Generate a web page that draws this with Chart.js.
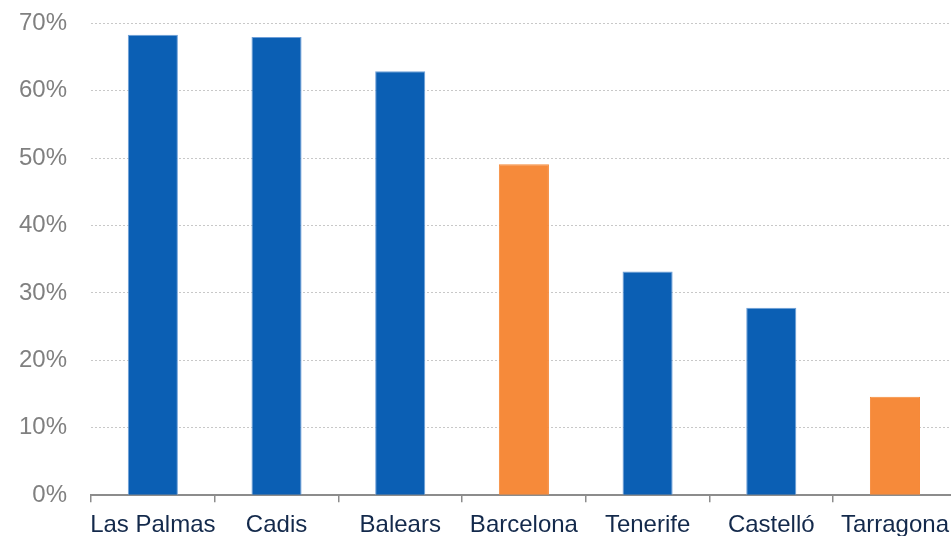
<!DOCTYPE html>
<html>
<head>
<meta charset="utf-8">
<script src="https://cdn.jsdelivr.net/npm/chart.js@4"></script>
<style>
  html, body { margin: 0; padding: 0; background: #fff; overflow: hidden; }
  #wrap { width: 958px; height: 564px; margin-top: -15px; }
</style>
</head>
<body>
<div id="wrap"><canvas id="share-chart"></canvas></div>
<script>
// Chart data
var provinces = ['Las Palmas', 'Cadis', 'Balears', 'Barcelona', 'Tenerife', 'Castelló', 'Tarragona'];
var shareValues = [68.3, 68.0, 62.9, 49.1, 33.2, 27.8, 14.6];
var highlighted = [false, false, false, true, false, false, true];
var yTicks = [0, 10, 20, 30, 40, 50, 60, 70];

var blue = '#0B5FB4';
var orange = '#F68A3A';

var ctx = document.getElementById('share-chart').getContext('2d');
var shareChart = new Chart(ctx, {
  type: 'bar',
  data: {
    labels: provinces,
    datasets: [{
      data: shareValues,
      backgroundColor: highlighted.map(h => h ? orange : blue),
      borderColor: highlighted.map(h => h ? orange : '#6E9FD8'),
      borderWidth: 1,
      barPercentage: 0.405,
      categoryPercentage: 1
    }]
  },
  options: {
    responsive: true,
    maintainAspectRatio: false,
    animation: false,
    layout: { padding: 0 },
    plugins: { legend: { display: false }, tooltip: { enabled: false } },
    scales: {
      x: {
        grid: { display: true, drawOnChartArea: false, offset: true, tickLength: 7, color: '#8C8C8C', lineWidth: 1.5 },
        border: { display: true, color: '#8C8C8C', width: 2 },
        ticks: { color: '#13294B', font: { family: 'Arial, "Liberation Sans"', size: 24 }, padding: 9, maxRotation: 0, autoSkip: false }
      },
      y: {
        min: 0,
        max: 70,
        afterBuildTicks: axis => { axis.ticks = yTicks.map(v => ({ value: v })); },
        afterFit: axis => { axis.width = 91; },
        grid: { color: '#C8C8C8', lineWidth: 1, drawTicks: false },
        border: { display: false, dash: [2, 2] },
        ticks: { color: '#808080', font: { family: 'Arial, "Liberation Sans"', size: 24 }, padding: 24, callback: v => v + '%' }
      }
    }
  }
});
</script>
</body>
</html>
